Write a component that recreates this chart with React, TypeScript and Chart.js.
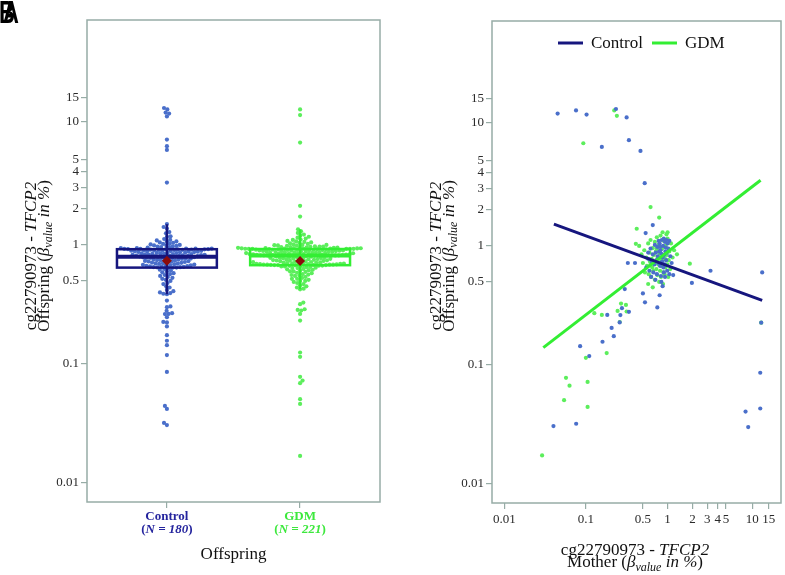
import React, { useEffect, useRef } from "react";
import { Chart, registerables } from "chart.js";
Chart.register(...registerables);

// ---------------- data ----------------
const categories = ["Control", "GDM"];
const groupN = [180, 221];

const controlOffspring = [
  12.6, 12.3, 11.65, 11.45, 10.9, 7.24, 6.43, 6.0, 3.28,
  1.49, 1.41, 1.37, 1.28, 1.25, 1.18, 1.17, 1.12, 1.1, 1.09, 1.07, 1.07, 1.05, 1.04, 1.02, 1.02, 1.01, 1.0,
  0.99, 0.99, 0.98, 0.97, 0.97, 0.96, 0.95, 0.95, 0.94, 0.94, 0.93, 0.93, 0.93, 0.925, 0.925, 0.922, 0.921, 0.921,
  0.919, 0.917, 0.915, 0.913, 0.91, 0.908, 0.905, 0.903, 0.901, 0.898, 0.894, 0.892, 0.889, 0.886, 0.884,
  0.88, 0.877, 0.874, 0.872, 0.868, 0.865, 0.861, 0.858, 0.856, 0.852, 0.849, 0.846, 0.843, 0.84, 0.838,
  0.834, 0.83, 0.827, 0.825, 0.822, 0.819, 0.816, 0.814, 0.812, 0.809, 0.807, 0.805, 0.803, 0.801, 0.799,
  0.796, 0.793, 0.79, 0.787, 0.783, 0.78, 0.776, 0.772, 0.769, 0.765, 0.762, 0.758, 0.754, 0.751, 0.747,
  0.743, 0.739, 0.735, 0.731, 0.728, 0.724, 0.72, 0.716, 0.712, 0.708, 0.704, 0.7, 0.697, 0.693, 0.689,
  0.686, 0.682, 0.679, 0.675, 0.672, 0.668, 0.665, 0.662, 0.659, 0.656, 0.653, 0.651, 0.649, 0.647, 0.646,
  0.64, 0.63, 0.62, 0.61, 0.6, 0.59, 0.58, 0.57, 0.56, 0.55, 0.54, 0.53, 0.52, 0.51, 0.5, 0.48, 0.47, 0.45,
  0.44, 0.42, 0.41, 0.4, 0.39, 0.386, 0.395,
  0.342, 0.305, 0.301, 0.28, 0.268, 0.264, 0.263, 0.248, 0.226, 0.224, 0.207, 0.175, 0.157, 0.144, 0.119,
  0.0858, 0.0443, 0.0418, 0.0319, 0.0306,
];

const gdmOffspring = [
  12.3, 11.15, 6.86, 2.11, 1.72,
  1.35, 1.3, 1.26, 1.22, 1.2, 1.17, 1.15, 1.13, 1.11, 1.1, 1.08, 1.07, 1.06, 1.05, 1.04, 1.03, 1.02, 1.01, 1.0, 1.0,
  0.995, 0.99, 0.985, 0.98, 0.975, 0.97, 0.97, 0.965, 0.96, 0.96, 0.955, 0.95, 0.95, 0.945, 0.945, 0.94, 0.94,
  0.938, 0.936, 0.934, 0.932, 0.931, 0.93, 0.929, 0.928, 0.927, 0.926, 0.926, 0.925, 0.924,
  0.922, 0.92, 0.918, 0.915, 0.913, 0.911, 0.909, 0.907, 0.905, 0.903, 0.9, 0.898, 0.896, 0.894, 0.891,
  0.889, 0.887, 0.885, 0.883, 0.88, 0.878, 0.876, 0.873, 0.871, 0.869, 0.866, 0.864, 0.861, 0.859, 0.857,
  0.854, 0.852, 0.85, 0.847, 0.845, 0.843, 0.84, 0.838, 0.836, 0.834, 0.832, 0.83, 0.828, 0.826, 0.824,
  0.823, 0.821, 0.82, 0.819, 0.818, 0.817, 0.817, 0.816, 0.816, 0.815,
  0.813, 0.81, 0.807, 0.804, 0.8, 0.797, 0.794, 0.79, 0.787, 0.784, 0.78, 0.777, 0.774, 0.771, 0.768,
  0.765, 0.762, 0.759, 0.756, 0.753, 0.75, 0.747, 0.744, 0.741, 0.738, 0.735, 0.732, 0.729, 0.726, 0.723,
  0.72, 0.717, 0.714, 0.711, 0.708, 0.705, 0.703, 0.7, 0.698, 0.696, 0.694, 0.692, 0.69, 0.688, 0.686,
  0.685, 0.684, 0.683, 0.682, 0.681, 0.68, 0.679, 0.678, 0.678, 0.677,
  0.67, 0.66, 0.655, 0.645, 0.64, 0.63, 0.625, 0.615, 0.61, 0.6, 0.595, 0.585, 0.58, 0.57, 0.565, 0.555,
  0.55, 0.54, 0.53, 0.52, 0.51, 0.5, 0.49, 0.48, 0.47, 0.46, 0.45, 0.44, 0.43, 0.425, 0.5, 0.52, 0.56,
  0.6, 0.62, 0.64, 0.65, 0.66, 0.665, 0.668, 0.672,
  0.329, 0.319, 0.289, 0.285, 0.282, 0.264, 0.232, 0.125, 0.115, 0.078, 0.0725, 0.0689, 0.0505, 0.0461, 0.0168,
];

// [lower whisker, Q1, median, Q3, upper whisker]
const controlBoxStats = [0.386, 0.646, 0.798, 0.921, 1.488];
const gdmBoxStats = [0.425, 0.677, 0.815, 0.924, 1.35];
const groupMeans = [0.736, 0.733];

// panel B pairs: [mother, offspring]
const controlPairs: [number, number][] = [
  [0.045, 11.65], [0.0757, 12.3], [0.102, 11.45], [0.157, 6.46], [0.234, 12.6], [0.316, 10.9], [0.337, 7.3],
  [0.467, 6.0], [0.526, 3.3], [0.66, 1.49], [0.54, 1.28], [3.29, 0.62], [12.8, 0.6], [0.327, 0.72], [0.4, 0.72],
  [1.97, 0.49], [1.17, 0.57], [0.3, 0.435], [0.5, 0.4], [0.8, 0.386], [0.87, 0.46], [0.53, 0.337], [0.75, 0.305],
  [0.277, 0.301], [0.265, 0.263], [0.337, 0.28], [0.183, 0.264], [0.26, 0.228], [0.207, 0.205], [0.16, 0.157],
  [0.22, 0.175], [0.085, 0.144], [0.11, 0.119], [0.04, 0.0306], [0.076, 0.032], [8.4, 0.0405], [9.0, 0.03],
  [12.2, 0.043], [12.2, 0.086], [12.5, 0.227],
  [0.62, 0.95], [0.7, 1.02], [0.75, 0.98], [0.78, 1.1], [0.8, 1.05], [0.82, 0.92], [0.85, 1.12], [0.88, 1.0],
  [0.9, 1.15], [0.93, 1.08], [0.95, 0.97], [0.97, 1.12], [1.0, 1.05], [1.02, 0.95], [1.05, 1.1], [0.66, 0.85],
  [0.72, 0.88], [0.76, 0.82], [0.79, 0.9], [0.84, 0.86], [0.87, 0.8], [0.91, 0.84], [0.94, 0.9], [0.98, 0.88],
  [0.58, 0.78], [0.64, 0.74], [0.69, 0.7], [0.73, 0.76], [0.77, 0.72], [0.81, 0.68], [0.86, 0.74], [0.89, 0.66],
  [0.92, 0.7], [0.96, 0.76], [1.08, 0.82], [1.12, 0.72], [0.55, 0.66], [0.6, 0.62], [0.67, 0.6], [0.74, 0.58],
  [0.83, 0.56], [0.9, 0.6], [0.99, 0.62], [0.71, 0.52], [0.84, 0.5], [0.63, 0.55], [1.05, 0.58], [0.58, 0.88],
  [0.81, 0.98], [0.93, 0.55],
];

const gdmPairs: [number, number][] = [
  [0.093, 6.9], [0.223, 12.3], [0.24, 11.2], [0.62, 2.1], [0.79, 1.72], [0.42, 1.39], [1.0, 1.3], [1.86, 0.71],
  [0.41, 1.04], [0.27, 0.329], [0.31, 0.32], [0.245, 0.285], [0.316, 0.282], [0.127, 0.273], [0.157, 0.264],
  [0.26, 0.23], [0.18, 0.126], [0.1, 0.115], [0.057, 0.078], [0.063, 0.067], [0.105, 0.072], [0.054, 0.0505],
  [0.105, 0.0443], [0.029, 0.0173], [12.5, 0.227],
  [0.45, 1.0], [0.52, 0.92], [0.58, 1.05], [0.62, 1.12], [0.66, 0.96], [0.7, 1.08], [0.74, 1.18], [0.78, 1.02],
  [0.82, 1.22], [0.86, 0.95], [0.9, 1.1], [0.95, 1.0], [1.0, 1.15], [1.05, 0.9], [1.1, 1.05], [1.2, 0.92],
  [1.3, 0.85], [0.48, 0.85], [0.55, 0.8], [0.6, 0.88], [0.64, 0.78], [0.68, 0.84], [0.72, 0.9], [0.76, 0.8],
  [0.8, 0.86], [0.84, 0.76], [0.88, 0.82], [0.93, 0.78], [0.98, 0.84], [1.03, 0.76], [1.15, 0.8], [0.5, 0.72],
  [0.56, 0.68], [0.61, 0.74], [0.65, 0.66], [0.69, 0.72], [0.73, 0.64], [0.77, 0.7], [0.81, 0.62], [0.85, 0.68],
  [0.89, 0.6], [0.94, 0.66], [0.99, 0.7], [1.08, 0.64], [0.53, 0.6], [0.59, 0.58], [0.63, 0.55], [0.67, 0.62],
  [0.75, 0.57], [0.83, 0.55], [0.92, 0.58], [0.58, 0.48], [0.66, 0.45], [0.7, 0.52], [0.79, 0.5], [0.88, 0.48],
  [1.02, 0.55], [0.62, 0.7], [0.74, 0.95], [0.87, 1.3], [0.97, 1.25],
];

// regression lines: [mother, offspring] end points
const controlFit: [number, number][] = [[0.0405, 1.52], [12.8, 0.35]];
const gdmFit: [number, number][] = [[0.03, 0.14], [12.3, 3.49]];

const tickValues = [0.01, 0.1, 0.5, 1, 2, 3, 4, 5, 10, 15];
const tickLabels = ["0.01", "0.1", "0.5", "1", "2", "3", "4", "5", "10", "15"];
const offspringRange = [0.00687, 44.3];
const motherRange = [0.00703, 20];

// ---------------- styles ----------------
const FONT = "'Liberation Serif','Times New Roman',Times,serif";
const FRAME = "#97aca6";
const NAVY = "#16167e";
const LIME = "#33ee33";
const BLUE_DOT = "#4a6fca";
const GREEN_DOT = "#5cee5c";
const MEAN_C = "#8b0b0b";
const LABEL_BLUE = "#25259e";
const LABEL_GREEN = "#3de83d";
const TICK_C = "#2a2a2a";

const logit = (v: number) => {
  const p = v / 100;
  return Math.log(p / (1 - p));
};

type Seg = { t: string; it?: boolean; b?: boolean; sub?: boolean };
function drawRich(ctx: CanvasRenderingContext2D, segs: Seg[], size: number, x: number, y: number, rot: number, color: string) {
  ctx.save();
  ctx.translate(x, y);
  if (rot) ctx.rotate(rot);
  ctx.fillStyle = color;
  ctx.textBaseline = "middle";
  ctx.textAlign = "left";
  const fontFor = (s: Seg) => `${s.it ? "italic " : ""}${s.b ? "bold " : ""}${s.sub ? Math.round(size * 0.7) : size}px ${FONT}`;
  let total = 0;
  const ws = segs.map((s) => {
    ctx.font = fontFor(s);
    const w = ctx.measureText(s.t).width;
    total += w;
    return w;
  });
  let cx = -total / 2;
  segs.forEach((s, i) => {
    ctx.font = fontFor(s);
    ctx.fillText(s.t, cx, s.sub ? size * 0.28 : 0);
    cx += ws[i];
  });
  ctx.restore();
}

const yTitle1: Seg[] = [{ t: "cg22790973 - " }, { t: "TFCP2", it: true }];
const yTitle2: Seg[] = [{ t: "Offspring (" }, { t: "β", it: true }, { t: "value", it: true, sub: true }, { t: " in %", it: true }, { t: ")" }];
const xTitleB2: Seg[] = [{ t: "Mother (" }, { t: "β", it: true }, { t: "value", it: true, sub: true }, { t: " in %", it: true }, { t: ")" }];

function beeswarm(vals: number[], pxPerY: number, d: number): number[] {
  const idx = vals.map((_, i) => i).sort((a, b) => logit(vals[a]) - logit(vals[b]));
  const out = new Array(vals.length).fill(0);
  const placed: { x: number; y: number }[] = [];
  idx.forEach((i, k) => {
    const y = logit(vals[i]) * pxPerY;
    const near = placed.filter((p) => Math.abs(p.y - y) < d);
    const cands = [0];
    near.forEach((p) => {
      const w = Math.sqrt(d * d - (p.y - y) ** 2);
      cands.push(p.x - w - 0.01, p.x + w + 0.01);
    });
    const sgn = k % 2 === 0 ? 1 : -1;
    cands.sort((a, b) => Math.abs(a) - Math.abs(b) || sgn * (b - a));
    let x = 0;
    for (const c of cands) {
      if (near.every((p) => (p.x - c) ** 2 + (p.y - y) ** 2 >= d * d - 0.05)) {
        x = c;
        break;
      }
    }
    placed.push({ x, y });
    out[i] = x;
  });
  return out;
}

const yTicksCfg = {
  autoSkip: false,
  maxRotation: 0,
  font: { family: FONT, size: 13 },
  color: TICK_C,
  padding: 2,
  callback: (_v: any, i: number) => tickLabels[i],
};
const gridCfg = { display: true, drawOnChartArea: false, drawTicks: true, tickLength: 6, color: FRAME, lineWidth: 1.2 };

function drawFrame(chart: any) {
  const { ctx, chartArea: a } = chart;
  ctx.save();
  ctx.strokeStyle = FRAME;
  ctx.lineWidth = 1.5;
  ctx.strokeRect(a.left, a.top, a.right - a.left, a.bottom - a.top);
  ctx.restore();
}

// ---------------- Panel A ----------------
function PanelA() {
  const ref = useRef<HTMLCanvasElement>(null);
  useEffect(() => {
    const pxPerY = 482 / (logit(offspringRange[1]) - logit(offspringRange[0]));
    const pxPerX = 293 / 2.2;
    const groups = [controlOffspring, gdmOffspring];
    const jit = groups.map((g) => beeswarm(g, pxPerY, 3.6));
    const stats = [controlBoxStats, gdmBoxStats];
    const boxColors = [NAVY, LIME];
    const plugin = {
      id: "panelA",
      afterDatasetsDraw(chart: any) {
        const { ctx, scales } = chart;
        const x = scales.x, y = scales.y;
        stats.forEach((st, i) => {
          const cx = x.getPixelForValue(i + 1);
          const half = x.getPixelForValue(i + 1 + 0.375) - cx;
          const py = st.map((v) => y.getPixelForValue(logit(v)));
          ctx.save();
          ctx.strokeStyle = boxColors[i];
          ctx.lineWidth = 2.5;
          ctx.beginPath();
          ctx.moveTo(cx, py[0]);
          ctx.lineTo(cx, py[4]);
          ctx.stroke();
          ctx.strokeRect(cx - half, py[3], half * 2, py[1] - py[3]);
          ctx.lineWidth = 4;
          ctx.beginPath();
          ctx.moveTo(cx - half, py[2]);
          ctx.lineTo(cx + half, py[2]);
          ctx.stroke();
          const my = y.getPixelForValue(logit(groupMeans[i]));
          ctx.fillStyle = MEAN_C;
          ctx.beginPath();
          ctx.moveTo(cx, my - 5);
          ctx.lineTo(cx + 5, my);
          ctx.lineTo(cx, my + 5);
          ctx.lineTo(cx - 5, my);
          ctx.closePath();
          ctx.fill();
          ctx.restore();
        });
      },
      afterDraw(chart: any) {
        const { ctx, chartArea: a, scales } = chart;
        drawFrame(chart);
        const cols = [LABEL_BLUE, LABEL_GREEN];
        categories.forEach((c, i) => {
          const cx = scales.x.getPixelForValue(i + 1);
          drawRich(ctx, [{ t: c, b: true }], 13, cx, 517, 0, cols[i]);
          drawRich(ctx, [{ t: "(", b: true }, { t: `N = ${groupN[i]}`, b: true, it: true }, { t: ")", b: true }], 13, cx, 530, 0, cols[i]);
        });
        drawRich(ctx, [{ t: "Offspring" }], 17, (a.left + a.right) / 2, 555, 0, "#111");
        const cy = 256;
        drawRich(ctx, yTitle1, 17, a.left - 55, cy, -Math.PI / 2, "#111");
        drawRich(ctx, yTitle2, 17, a.left - 42.5, cy, -Math.PI / 2, "#111");
        // panel letters
        ctx.save();
        ctx.fillStyle = "#000";
        ctx.font = `bold 22px 'Liberation Sans', Arial, sans-serif`;
        ctx.textBaseline = "alphabetic";
        ctx.textAlign = "left";
        ctx.scale(1, 1.4);
        ctx.fillText("A", 3, 16.3);
        ctx.fillText("B", -1, 16.3);
        ctx.restore();
      },
    };
    const chart = new Chart(ref.current!, {
      type: "scatter",
      data: {
        datasets: groups.map((g, gi) => ({
          data: g.map((v, i) => ({ x: gi + 1 + jit[gi][i] / pxPerX, y: logit(v) })),
          backgroundColor: gi === 0 ? BLUE_DOT : GREEN_DOT,
          borderWidth: 0,
          pointRadius: 2.1,
        })),
      },
      options: {
        animation: false,
        responsive: false,
        events: [],
        layout: { padding: { left: 0, top: 20, right: 12, bottom: 0 } },
        plugins: { legend: { display: false }, tooltip: { enabled: false } },
        scales: {
          x: {
            type: "linear",
            min: 0.4,
            max: 2.6,
            afterBuildTicks: (s: any) => { s.ticks = [{ value: 1 }, { value: 2 }]; },
            afterFit: (s: any) => { s.height = 73; },
            ticks: { display: false },
            grid: gridCfg,
            border: { display: false },
          },
          y: {
            type: "linear",
            min: logit(offspringRange[0]),
            max: logit(offspringRange[1]),
            afterBuildTicks: (s: any) => { s.ticks = tickValues.map((v) => ({ value: logit(v) })); },
            afterFit: (s: any) => { s.width = 87; },
            ticks: yTicksCfg,
            grid: gridCfg,
            border: { display: false },
          },
        },
      } as any,
      plugins: [plugin],
    });
    return () => chart.destroy();
  }, []);
  return <canvas ref={ref} width={392} height={575} style={{ position: "absolute", left: 0, top: 0, display: "block" }} />;
}

// ---------------- Panel B ----------------
function PanelB() {
  const ref = useRef<HTMLCanvasElement>(null);
  useEffect(() => {
    const plugin = {
      id: "panelB",
      afterDraw(chart: any) {
        const { ctx, chartArea: a } = chart;
        drawFrame(chart);
        const cx = 243;
        drawRich(ctx, yTitle1, 17, cx, 550.5, 0, "#111");
        drawRich(ctx, xTitleB2, 17, cx, 563, 0, "#111");
        const cy = 256;
        drawRich(ctx, yTitle1, 17, a.left - 55, cy, -Math.PI / 2, "#111");
        drawRich(ctx, yTitle2, 17, a.left - 42.5, cy, -Math.PI / 2, "#111");
        // legend
        ctx.save();
        ctx.lineWidth = 3;
        const items = [
          { t: "Control", c: NAVY, x: 166 },
          { t: "GDM", c: LIME, x: 260 },
        ];
        items.forEach((it) => {
          ctx.strokeStyle = it.c;
          ctx.beginPath();
          ctx.moveTo(it.x, 43);
          ctx.lineTo(it.x + 25, 43);
          ctx.stroke();
          ctx.fillStyle = "#111";
          ctx.font = `17px ${FONT}`;
          ctx.textBaseline = "middle";
          ctx.textAlign = "left";
          ctx.fillText(it.t, it.x + 33, 43.5);
        });
        ctx.restore();
      },
    };
    const toPts = (arr: [number, number][]) => arr.map(([m, o]) => ({ x: logit(m), y: logit(o) }));
    const chart = new Chart(ref.current!, {
      type: "scatter",
      data: {
        datasets: [
          { data: toPts(controlFit), showLine: true, borderColor: NAVY, borderWidth: 3, pointRadius: 0 },
          { data: toPts(gdmFit), showLine: true, borderColor: LIME, borderWidth: 3, pointRadius: 0 },
          { data: toPts(controlPairs), backgroundColor: BLUE_DOT, borderWidth: 0, pointRadius: 2.1 },
          { data: toPts(gdmPairs), backgroundColor: GREEN_DOT, borderWidth: 0, pointRadius: 2.1 },
        ],
      },
      options: {
        animation: false,
        responsive: false,
        events: [],
        layout: { padding: { left: 0, top: 21, right: 1, bottom: 0 } },
        plugins: { legend: { display: false }, tooltip: { enabled: false } },
        scales: {
          x: {
            type: "linear",
            min: logit(motherRange[0]),
            max: logit(motherRange[1]),
            afterBuildTicks: (s: any) => { s.ticks = tickValues.map((v) => ({ value: logit(v) })); },
            afterFit: (s: any) => { s.height = 72; },
            ticks: { ...yTicksCfg, padding: 3 },
            grid: gridCfg,
            border: { display: false },
          },
          y: {
            type: "linear",
            min: logit(offspringRange[0]),
            max: logit(offspringRange[1]),
            afterBuildTicks: (s: any) => { s.ticks = tickValues.map((v) => ({ value: logit(v) })); },
            afterFit: (s: any) => { s.width = 100; },
            ticks: yTicksCfg,
            grid: gridCfg,
            border: { display: false },
          },
        },
      } as any,
      plugins: [plugin],
    });
    return () => chart.destroy();
  }, []);
  return <canvas ref={ref} width={393} height={575} style={{ position: "absolute", left: 392, top: 0, display: "block" }} />;
}

export default function App() {
  return (
    <div style={{ position: "fixed", left: 0, top: 0, width: 785, height: 575, background: "#fff", overflow: "hidden" }}>
      <PanelA />
      <PanelB />
    </div>
  );
}
